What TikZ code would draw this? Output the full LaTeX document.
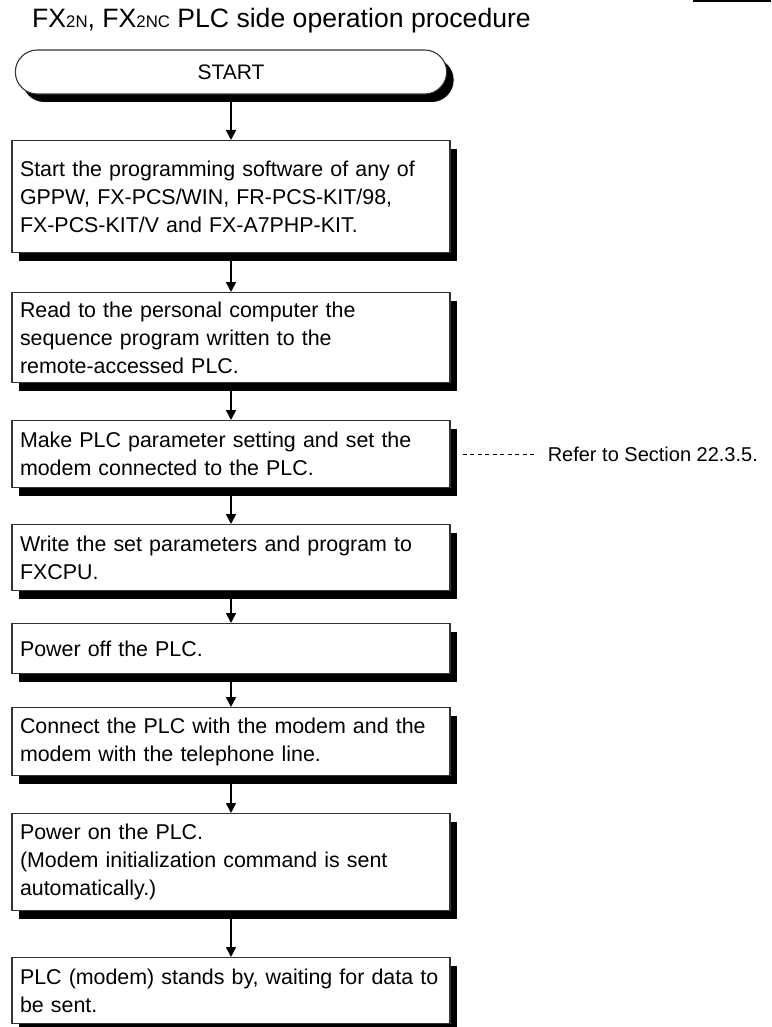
\documentclass[tikz,border=0pt]{standalone}
\usepackage{fontspec}
\setmainfont{Liberation Sans}
\usetikzlibrary{shapes.misc,shadows,arrows.meta,positioning}

\newcommand{\smallsub}[1]{{\fontsize{16.8}{18}\selectfont #1}}

\tikzset{
  stepbox/.style={draw=black!80, line width=1.1pt, fill=white, anchor=north,
    minimum width=438pt, inner xsep=8pt, inner ysep=0pt,
    text width=422pt, align=left, font=\fontsize{21.4}{28}\selectfont,
    drop shadow={shadow xshift=7pt, shadow yshift=-8pt, fill=black, opacity=1}},
  terminal/.style={rounded rectangle, draw=black!80, line width=1.1pt, fill=white,
    minimum width=438pt, minimum height=44pt, font=\fontsize{21}{24}\selectfont,
    drop shadow={shadow xshift=7pt, shadow yshift=-8pt, fill=black, opacity=1}},
  flow/.style={-{Triangle[length=10pt,width=10pt]}, line width=1.6pt},
  refline/.style={dashed, dash pattern=on 4pt off 3.5pt, line width=0.9pt}
}

\begin{document}
\begin{tikzpicture}[x=1pt,y=-1pt]
        \useasboundingbox (0,0) rectangle (771,1027);
        \fill (693,0) rectangle (771,2.5);

        % Titre
        \node[anchor=base west, inner sep=0pt, font=\fontsize{26.6}{30}\selectfont] (title) at (32,28)
            {FX\smallsub{2N}, FX\smallsub{2NC} PLC side operation procedure};

        % Etapes
        \node[terminal] (start) at (231,72) {START};
        \node[stepbox, minimum height=112pt] (s1) at (231,140)
            {Start the programming software of any of\\GPPW, FX-PCS/WIN, FR-PCS-KIT/98,\\FX-PCS-KIT/V and FX-A7PHP-KIT.};
        \node[stepbox, minimum height=90pt] (s2) at (231,292)
            {Read to the personal computer the\\sequence program written to the\\remote-accessed PLC.};
        \node[stepbox, minimum height=67pt] (s3) at (231,420)
            {Make PLC parameter setting and set the\\modem connected to the PLC.};
        \node[stepbox, minimum height=66pt] (s4) at (231,524)
            {Write the set parameters and program to\\FXCPU.};
        \node[stepbox, minimum height=50pt] (s5) at (231,623)
            {Power off the PLC.};
        \node[stepbox, minimum height=68pt] (s6) at (231,707)
            {Connect the PLC with the modem and the\\modem with the telephone line.};
        \node[stepbox, minimum height=97pt] (s7) at (231,813)
            {Power on the PLC.\\(Modem initialization command is sent\\automatically.)};
        \node[stepbox, minimum height=66pt] (s8) at (231,957)
            {PLC (modem) stands by, waiting for data to\\be sent.};

        % Renvoi
        \node[inner sep=0pt, font=\fontsize{20}{24}\selectfont, right=97pt of s3] (ref) {Refer to Section 22.3.5.};
        \draw[refline] ([xshift=12pt]s3.east) -- ([xshift=-10pt]ref.west);

        % Fleches
        \draw[flow] (start) -- (s1);
        \draw[flow] (s1) -- (s2);
        \draw[flow] (s2) -- (s3);
        \draw[flow] (s3) -- (s4);
        \draw[flow] (s4) -- (s5);
        \draw[flow] (s5) -- (s6);
        \draw[flow] (s6) -- (s7);
        \draw[flow] (s7) -- (s8);
    \end{tikzpicture}
\end{document}
